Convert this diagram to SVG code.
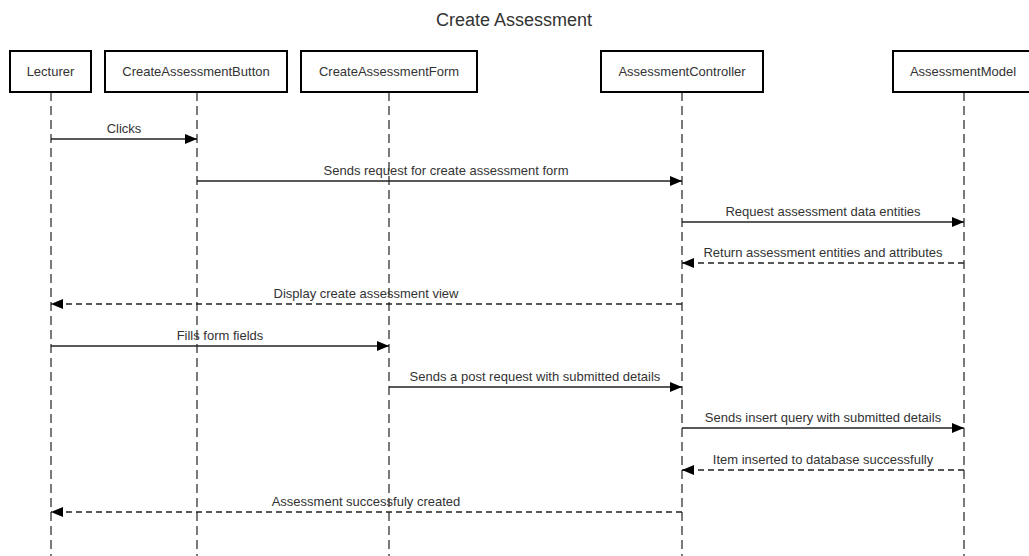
<svg xmlns="http://www.w3.org/2000/svg" width="1029" height="556" viewBox="0 0 1029 556">
<defs>
<style>
.box{fill:#fff;stroke:#000;stroke-width:2}
.lbl{font-family:"Liberation Sans",Arial,sans-serif;font-size:13px;fill:#333;text-anchor:middle}
.life{stroke:#333;stroke-width:1.3;stroke-dasharray:9 5;fill:none}
.msg{stroke:#222;stroke-width:1.3;fill:none}
.ret{stroke:#222;stroke-width:1.3;fill:none;stroke-dasharray:6 4}
</style>
<marker id="ah" viewBox="0 0 12 10" refX="12" refY="5" markerWidth="12" markerHeight="10" markerUnits="userSpaceOnUse" orient="auto">
<path d="M0,0 L12,5 L0,10 Z" fill="#000"/>
</marker>
</defs>
<rect width="1029" height="556" fill="#fff"/>
<text x="514" y="26" font-family="Liberation Sans,Arial,sans-serif" font-size="18" fill="#333" text-anchor="middle">Create Assessment</text>
<g id="lecturer">
<line class="life" x1="51" y1="92" x2="51" y2="556"/>
<rect class="box" x="10" y="51" width="81" height="41"/>
<text class="lbl" x="50.5" y="76">Lecturer</text>
</g>
<g id="createAssessmentButton">
<line class="life" x1="197" y1="92" x2="197" y2="556"/>
<rect class="box" x="105" y="51" width="182" height="41"/>
<text class="lbl" x="196" y="76">CreateAssessmentButton</text>
</g>
<g id="createAssessmentForm">
<line class="life" x1="389" y1="92" x2="389" y2="556"/>
<rect class="box" x="301" y="51" width="176" height="41"/>
<text class="lbl" x="389" y="76">CreateAssessmentForm</text>
</g>
<g id="assessmentController">
<line class="life" x1="682" y1="92" x2="682" y2="556"/>
<rect class="box" x="601" y="51" width="162" height="41"/>
<text class="lbl" x="682" y="76">AssessmentController</text>
</g>
<g id="assessmentModel">
<line class="life" x1="964" y1="92" x2="964" y2="556"/>
<rect class="box" x="893" y="51" width="142" height="41"/>
<text class="lbl" x="963" y="76">AssessmentModel</text>
</g>
<g id="connectors">
<line class="msg" x1="51" y1="139" x2="197" y2="139" marker-end="url(#ah)"/>
<text class="lbl" x="124" y="133">Clicks</text>
<line class="msg" x1="197" y1="181" x2="682" y2="181" marker-end="url(#ah)"/>
<text class="lbl" x="446" y="175">Sends request for create assessment form</text>
<line class="msg" x1="682" y1="222" x2="964" y2="222" marker-end="url(#ah)"/>
<text class="lbl" x="823" y="216">Request assessment data entities</text>
<line class="ret" x1="964" y1="263" x2="682" y2="263" marker-end="url(#ah)"/>
<text class="lbl" x="823" y="257">Return assessment entities and attributes</text>
<line class="ret" x1="682" y1="304" x2="51" y2="304" marker-end="url(#ah)"/>
<text class="lbl" x="366" y="298">Display create assessment view</text>
<line class="msg" x1="51" y1="346" x2="389" y2="346" marker-end="url(#ah)"/>
<text class="lbl" x="220" y="340">Fills form fields</text>
<line class="msg" x1="389" y1="387" x2="682" y2="387" marker-end="url(#ah)"/>
<text class="lbl" x="535" y="381">Sends a post request with submitted details</text>
<line class="msg" x1="682" y1="428" x2="964" y2="428" marker-end="url(#ah)"/>
<text class="lbl" x="823" y="422">Sends insert query with submitted details</text>
<line class="ret" x1="964" y1="470" x2="682" y2="470" marker-end="url(#ah)"/>
<text class="lbl" x="823" y="464">Item inserted to database successfully</text>
<line class="ret" x1="682" y1="512" x2="51" y2="512" marker-end="url(#ah)"/>
<text class="lbl" x="366" y="506">Assessment successfuly created</text>
</g>
</svg>
